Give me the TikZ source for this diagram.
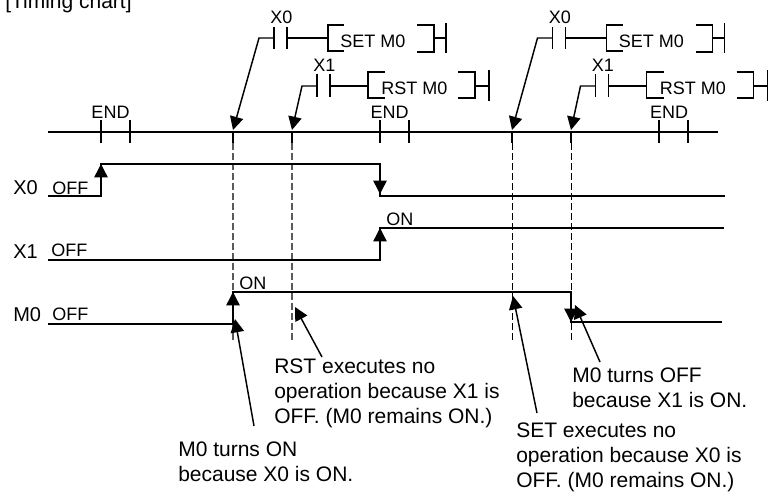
\documentclass[tikz,border=0pt]{standalone}
\usepackage{fontspec}
\setmainfont{Liberation Sans}
\usetikzlibrary{arrows.meta}
\definecolor{tcgray}{RGB}{90,90,90}
\tikzset{
  rung/.style={line width=1.1pt},
  signal/.style={line width=1.1pt},
  pointer/.style={line width=1.1pt,-{Triangle[length=10pt,width=10pt]}},
  edge/.style={line width=1.1pt,-{Triangle[length=10pt,width=10pt]}},
  guide/.style={dash pattern=on 5pt off 2.5pt},
  small/.style={inner sep=0pt,anchor=base west,font=\fontsize{13.5}{16}\selectfont},
  signame/.style={inner sep=0pt,anchor=base west,font=\fontsize{15}{18}\selectfont},
  note/.style={inner sep=0pt,anchor=north west,align=left,font=\fontsize{15.75}{18.75}\selectfont}
}
\begin{document}
\begin{tikzpicture}[x=0.75pt,y=-0.75pt]
  \useasboundingbox (0,0) rectangle (771,493);
  \node[inner sep=0pt,anchor=base west,font=\fontsize{15.75}{18}\selectfont] (title) at (5,8) {[Timing chart]};
  % Scan line
  \draw[signal] (48,132) -- (718,132);
  \foreach \x in {101,130,380,409,659,688} {
    \draw[rung] (\x,120) -- (\x,143);
  }
  \node[small,anchor=base] (endA) at (110.5,118) {END};
  \node[small,anchor=base] (endB) at (389.5,118) {END};
  \node[small,anchor=base] (endC) at (669,118) {END};
  % Ladder rungs
  \foreach \dx/\tipset/\tiprst/\n in {0/233/292/a, 278.5/512/571/b} {
    \begin{scope}[shift={(\dx,0)}]
      \draw[rung] (274,27) -- (274,49);
      \draw[rung] (287,27) -- (287,49);
      \draw[rung] (287,38) -- (328,38);
      \draw[rung] (344,25) -- (328,25) -- (328,51) -- (344,51);
      \draw[rung] (417,25) -- (434,25) -- (434,52) -- (417,52);
      \draw[rung] (434,38) -- (446,38);
      \draw[rung] (446,23) -- (446,53);
      \node[small] (lblset\n) at (270,23) {X0};
      \node[small] (cmdset\n) at (340,47) {SET M0};
      \draw[rung] (317,74) -- (317,97);
      \draw[rung] (330,74) -- (330,97);
      \draw[rung] (330,86) -- (368,86);
      \draw[rung] (385,72) -- (368,72) -- (368,98) -- (385,98);
      \draw[rung] (458,72) -- (475,72) -- (475,98) -- (458,98);
      \draw[rung] (475,86) -- (489,86);
      \draw[rung] (489,70) -- (489,101);
      \node[small] (lblrst\n) at (313,71) {X1};
      \node[small] (cmdrst\n) at (381,94) {RST M0};
      \coordinate (wireset\n) at (274,38);
      \coordinate (bendset\n) at (259,38);
      \coordinate (wirerst\n) at (317,86);
      \coordinate (bendrst\n) at (302,86);
    \end{scope}
    \draw[pointer] (wireset\n) -- (bendset\n) -- (\tipset,130);
    \draw[pointer] (wirerst\n) -- (bendrst\n) -- (\tiprst,130);
  }
  % Guides
  \foreach \x in {233,292,512,571} {
    \draw[rung] (\x,132) -- (\x,143);
  }
  \foreach \x in {233,292} {
    \draw[guide,tcgray,line width=1pt] (\x,143) -- (\x,342);
  }
  \foreach \x in {512,571} {
    \draw[guide,line width=0.75pt] (\x,143) -- (\x,342);
  }
  % X0
  \node[signame] (nameXa) at (13,194) {X0};
  \node[small] (offXa) at (52,194) {OFF};
  \draw[signal] (48,196) -- (101,196) -- (101,164) -- (380,164) -- (380,196) -- (725,196);
  \draw[edge] (101,180) -- (101,164);
  \draw[edge] (380,178) -- (380,194);
  % X1
  \node[signame] (nameXb) at (13,258) {X1};
  \node[small] (offXb) at (51,256) {OFF};
  \node[small] (onXb) at (386,225) {ON};
  \draw[signal] (48,260) -- (380,260) -- (380,228) -- (724,228);
  \draw[edge] (380,244) -- (380,228);
  % M0
  \node[signame] (nameM) at (13,321) {M0};
  \node[small] (offM) at (52,320) {OFF};
  \node[small] (onM) at (239,289) {ON};
  \draw[signal] (48,324) -- (233,324) -- (233,292) -- (571,292) -- (571,322) -- (722,322);
  \draw[edge] (233,308) -- (233,292);
  \draw[edge] (571,306) -- (571,322);
  % Notes
  \node[note] (noteon) at (178,442) {M0 turns ON\\because X0 is ON.};
  \node[note] (noterst) at (274,359) {RST executes no\\operation because X1 is\\OFF. (M0 remains ON.)};
  \node[note] (noteset) at (516,423) {SET executes no\\operation because X0 is\\OFF. (M0 remains ON.)};
  \node[note] (noteoff) at (572,368) {M0 turns OFF\\because X1 is ON.};
  \coordinate (fromon) at (254,426);
  \coordinate (fromrst) at (322,357);
  \coordinate (fromset) at (537,413);
  \coordinate (fromoff) at (600,362);
  \draw[pointer] (fromon) -- (235,319);
  \draw[pointer] (fromrst) -- (295,307);
  \draw[pointer] (fromset) -- (513,296);
  \draw[pointer] (fromoff) -- (575,305);
\end{tikzpicture}
\end{document}
